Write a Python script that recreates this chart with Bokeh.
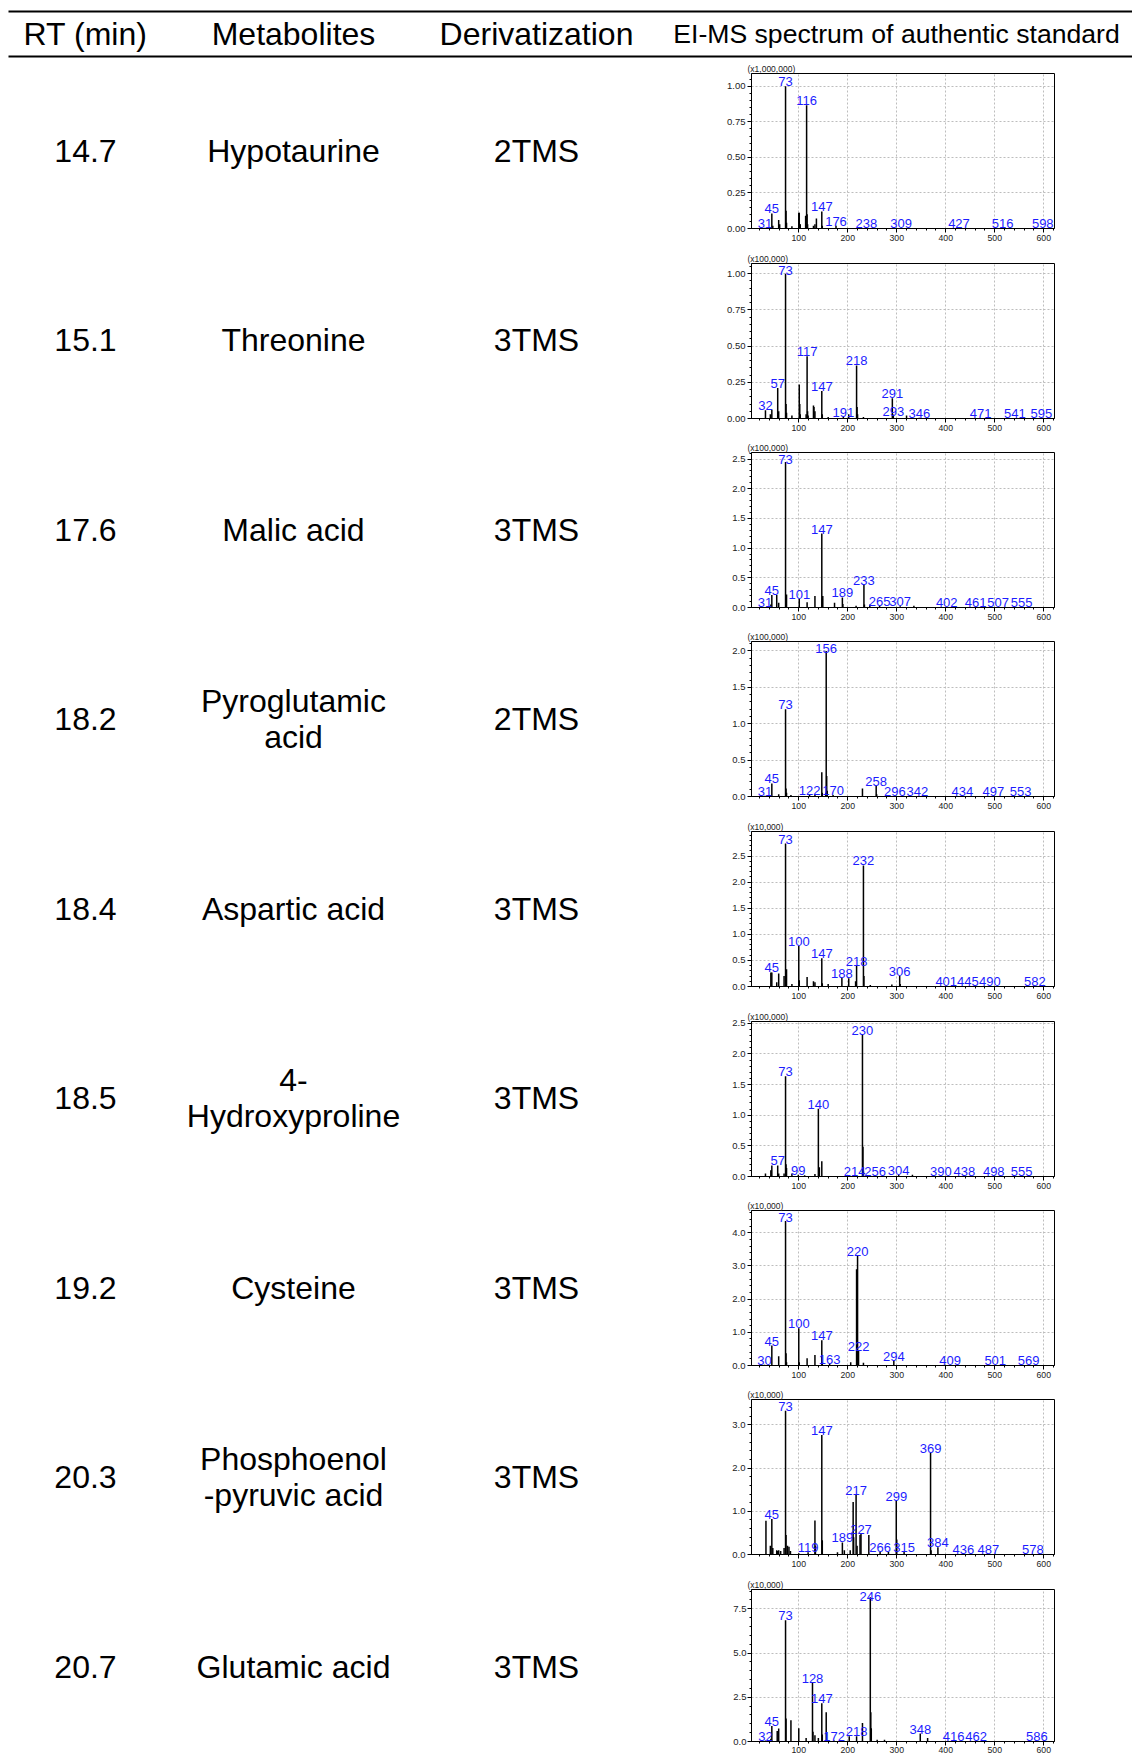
import numpy as np
from bokeh.plotting import figure
from bokeh.layouts import column, row
from bokeh.models import Range1d, FixedTicker, PrintfTickFormatter
from bokeh.core.properties import value
from bokeh.embed import file_html
from bokeh.resources import INLINE

FONT = "Liberation Sans"

# ---------------- table data ----------------
headers = ["RT (min)", "Metabolites", "Derivatization", "EI-MS spectrum of authentic standard"]
rt_values = ["14.7", "15.1", "17.6", "18.2", "18.4", "18.5", "19.2", "20.3", "20.7"]
metabolites = ["Hypotaurine", "Threonine", "Malic acid", "Pyroglutamic\nacid", "Aspartic acid",
               "4-\nHydroxyproline", "Cysteine", "Phosphoenol\n-pyruvic acid", "Glutamic acid"]
derivatization = ["2TMS", "3TMS", "3TMS", "2TMS", "3TMS", "3TMS", "3TMS", "3TMS", "3TMS"]
scale_labels = ["(x1,000,000)", "(x100,000)", "(x100,000)", "(x100,000)", "(x10,000)",
                "(x100,000)", "(x10,000)", "(x10,000)", "(x10,000)"]
x_ticks = [100, 200, 300, 400, 500, 600]

# ---------------- spectra data ----------------
# 1 Hypotaurine
s1_mz = [31, 45, 47, 59, 61, 73, 74, 75, 86, 100, 101, 102, 103, 114, 115, 116, 117, 118, 130, 133, 136, 147, 148, 176, 238, 309, 427, 516, 598]
s1_int = [.006, .106, .02, .06, .03, 1.0, .125, .04, .015, .11, .11, .03, .03, .09, .02, .866, .1, .03, .02, .03, .07, .12, .02, .02, .003, .003, .003, .003, .003]
s1_lab = [31, 45, 73, 116, 147, 176, 238, 309, 427, 516, 598]
s1_yticks = [0.0, 0.25, 0.5, 0.75, 1.0]
s1_ymax = 1.09
# 2 Threonine
s2_mz = [32, 42, 45, 57, 59, 73, 74, 75, 86, 101, 102, 103, 115, 117, 118, 119, 130, 131, 133, 147, 148, 160, 191, 202, 218, 219, 220, 232, 291, 292, 293, 320, 346, 471, 541, 595]
s2_int = [.057, .03, .06, .21, .05, 1.0, .1, .04, .02, .234, .1, .03, .03, .43, .05, .02, .09, .08, .05, .19, .03, .01, .01, .03, .366, .08, .03, .01, .14, .03, .02, .02, .005, .003, .003, .003]
s2_lab = [32, 57, 73, 117, 147, 191, 218, 291, 293, 346, 471, 541, 595]
s2_yticks = [0.0, 0.25, 0.5, 0.75, 1.0]
s2_ymax = 1.07
# 3 Malic acid
s3_mz = [31, 43, 45, 55, 59, 73, 74, 75, 101, 117, 133, 147, 148, 149, 173, 189, 190, 217, 233, 234, 245, 265, 307, 335, 402, 461, 507, 555]
s3_int = [.01, .05, .21, .21, .08, 2.45, .2, .22, .145, .09, .195, 1.245, .15, .195, .08, .17, .06, .03, .38, .05, .05, .03, .02, .03, .005, .005, .005, .005]
s3_lab = [31, 45, 73, 101, 147, 189, 233, 265, 307, 402, 461, 507, 555]
s3_yticks = [0.0, 0.5, 1.0, 1.5, 2.0, 2.5]
s3_ymax = 2.61
# 4 Pyroglutamic acid
s4_mz = [31, 45, 59, 73, 74, 75, 84, 122, 133, 147, 148, 155, 156, 157, 158, 170, 230, 258, 259, 296, 342, 434, 497, 553]
s4_int = [.01, .18, .03, 1.2, .11, .05, .02, .02, .03, .334, .05, .05, 2.0, .28, .08, .02, .11, .146, .03, .005, .005, .005, .005, .005]
s4_lab = [31, 45, 73, 122, 156, 170, 258, 296, 342, 434, 497, 553]
s4_yticks = [0.0, 0.5, 1.0, 1.5, 2.0]
s4_ymax = 2.13
# 5 Aspartic acid
s5_mz = [43, 45, 55, 59, 70, 73, 74, 75, 86, 100, 101, 117, 130, 133, 147, 148, 160, 188, 202, 216, 218, 232, 233, 246, 290, 306, 307, 401, 445, 490, 582]
s5_int = [.27, .27, .08, .25, .2, 2.74, .27, .33, .05, .776, .12, .18, .1, .08, .54, .06, .05, .17, .16, .1, .40, 2.32, .2, .03, .04, .2, .05, .005, .005, .005, .005]
s5_lab = [45, 73, 100, 147, 188, 218, 232, 306, 401, 445, 490, 582]
s5_yticks = [0.0, 0.5, 1.0, 1.5, 2.0, 2.5]
s5_ymax = 2.97
# 6 4-Hydroxyproline
s6_mz = [32, 43, 45, 57, 59, 70, 73, 74, 75, 86, 99, 112, 133, 140, 142, 147, 214, 230, 231, 232, 256, 304, 332, 390, 438, 498, 555]
s6_int = [.05, .1, .18, .18, .05, .05, 1.636, .2, .14, .05, .03, .02, .04, 1.107, .15, .25, .01, 2.31, .486, .08, .01, .03, .03, .005, .005, .005, .005]
s6_lab = [57, 73, 99, 140, 214, 230, 256, 304, 390, 438, 498, 555]
s6_yticks = [0.0, 0.5, 1.0, 1.5, 2.0, 2.5]
s6_ymax = 2.53
# 7 Cysteine
s7_mz = [30, 45, 59, 73, 74, 75, 100, 101, 117, 133, 147, 148, 163, 206, 218, 220, 222, 232, 294, 409, 501, 569]
s7_int = [.02, .6, .28, 4.35, .37, .1, 1.12, .1, .22, .32, .76, .1, .05, .1, 2.9, 3.31, .45, .08, .15, .01, .01, .01]
s7_lab = [30, 45, 73, 100, 147, 163, 220, 222, 294, 409, 501, 569]
s7_yticks = [0.0, 1.0, 2.0, 3.0, 4.0]
s7_ymax = 4.67
# 8 Phosphoenolpyruvic acid
s8_mz = [33, 42, 45, 47, 55, 57, 59, 63, 70, 73, 74, 77, 80, 83, 100, 119, 133, 134, 147, 148, 179, 189, 193, 205, 211, 212, 217, 219, 225, 227, 243, 266, 283, 299, 300, 315, 369, 370, 384, 436, 487, 578]
s8_int = [.78, .2, .82, .15, .1, .08, .1, .08, .15, 3.33, .45, .2, .18, .08, .03, .05, .79, .2, 2.77, .33, .05, .28, .1, .1, 1.215, .4, 1.385, .2, .45, .48, .45, .06, .06, 1.25, .35, .06, 2.35, .1, .17, .01, .01, .01]
s8_lab = [45, 73, 119, 147, 189, 217, 227, 266, 299, 315, 369, 384, 436, 487, 578]
s8_yticks = [0.0, 1.0, 2.0, 3.0]
s8_ymax = 3.59
# 9 Glutamic acid
s9_mz = [32, 43, 45, 56, 59, 73, 74, 84, 100, 115, 128, 129, 133, 140, 147, 148, 156, 172, 203, 218, 230, 246, 247, 248, 260, 275, 348, 363, 416, 462, 586]
s9_int = [.05, .15, .87, .6, .73, 6.85, 1.3, 1.2, .75, .2, 3.32, .55, .35, .2, 2.16, .4, 1.65, .05, .3, .3, 1.05, 8.15, 1.65, .75, .1, .1, .45, .2, .02, .02, .02]
s9_lab = [32, 45, 73, 128, 147, 172, 218, 246, 348, 416, 462, 586]
s9_yticks = [0.0, 2.5, 5.0, 7.5]
s9_ymax = 8.59

spectra = [
    (s1_mz, s1_int, s1_lab, s1_yticks, s1_ymax, "%.2f"),
    (s2_mz, s2_int, s2_lab, s2_yticks, s2_ymax, "%.2f"),
    (s3_mz, s3_int, s3_lab, s3_yticks, s3_ymax, "%.1f"),
    (s4_mz, s4_int, s4_lab, s4_yticks, s4_ymax, "%.1f"),
    (s5_mz, s5_int, s5_lab, s5_yticks, s5_ymax, "%.1f"),
    (s6_mz, s6_int, s6_lab, s6_yticks, s6_ymax, "%.1f"),
    (s7_mz, s7_int, s7_lab, s7_yticks, s7_ymax, "%.1f"),
    (s8_mz, s8_int, s8_lab, s8_yticks, s8_ymax, "%.1f"),
    (s9_mz, s9_int, s9_lab, s9_yticks, s9_ymax, "%.1f"),
]

# ---------------- layout constants ----------------
TOTAL_W, TOTAL_H = 1132, 1755
HEADER_H = 61
TEXT_W = 708
SPEC_W = TOTAL_W - TEXT_W
ROW_PITCH = 189.5
FRAME_H = 155
FRAME_TOP = 12
BORDER_L, BORDER_R = 43, 78
BODY_H = TOTAL_H - HEADER_H
LABEL_BLUE = "#1c1cff"
MAIN_FS = "32px"

# ---------------- header ----------------
hdr = figure(width=TOTAL_W, height=HEADER_H, x_range=Range1d(0, TOTAL_W), y_range=Range1d(HEADER_H, 0),
             output_backend="svg", toolbar_location=None, min_border=0)
hdr.axis.visible = False
hdr.grid.visible = False
hdr.outline_line_color = None
hdr.segment(x0=[8, 8], y0=[11, 56], x1=[TOTAL_W, TOTAL_W], y1=[11, 56], line_color="black", line_width=2)
hdr_x = [85, 293, 536, 896]
hdr_sizes = [MAIN_FS, MAIN_FS, MAIN_FS, "26.6px"]
for t, x, fs in zip(headers, hdr_x, hdr_sizes):
    hdr.text(x=[x], y=[33.5], text=[t], text_font=value(FONT), text_font_size=fs,
             text_align="center", text_baseline="middle", text_color="black")

# ---------------- text column ----------------
row_top = 150 - HEADER_H  # local y of first row centre
txt = figure(width=TEXT_W, height=BODY_H, x_range=Range1d(0, TEXT_W),
             y_range=Range1d((BODY_H - row_top) / ROW_PITCH, -row_top / ROW_PITCH),
             output_backend="svg", toolbar_location=None, min_border=0)
txt.axis.visible = False
txt.grid.visible = False
txt.outline_line_color = None
rows_idx = list(range(len(rt_values)))
for col_x, col_vals in zip([85, 293, 536], [rt_values, metabolites, derivatization]):
    txt.text(x=[col_x] * len(col_vals), y=rows_idx, text=col_vals, text_font=value(FONT),
             text_font_size=MAIN_FS, text_align="center", text_baseline="middle",
             text_color="black", text_line_height=1.0)

# ---------------- spectra ----------------
bounds = [round(ROW_PITCH * i) for i in range(len(spectra))] + [BODY_H]
specs = []
for i, (mz, inten, labs, yt, ymax, fmt) in enumerate(spectra):
    h = bounds[i + 1] - bounds[i]
    last = i == len(spectra) - 1
    p = figure(width=SPEC_W, height=h, x_range=Range1d(3.5, 622), y_range=Range1d(0, ymax),
               output_backend="svg", toolbar_location=None,
               min_border_left=BORDER_L, min_border_right=BORDER_R,
               min_border_top=FRAME_TOP, min_border_bottom=h - FRAME_TOP - FRAME_H)
    p.title.text = scale_labels[i]
    p.title.text_font = FONT
    p.title.text_font_size = "8.5px"
    p.title.text_font_style = "normal"
    p.title.text_color = "#222222"
    p.title.align = "left"
    p.title.offset = -4
    p.title.standoff = 0
    p.outline_line_color = "black"
    p.outline_line_width = 1
    step = yt[1] - yt[0]
    p.yaxis.ticker = FixedTicker(ticks=yt, minor_ticks=list(np.arange(0, ymax, step / 5)))
    p.xaxis.ticker = FixedTicker(ticks=x_ticks, minor_ticks=list(range(20, 621, 20)))
    p.yaxis.formatter = PrintfTickFormatter(format=fmt)
    p.xaxis.formatter = PrintfTickFormatter(format="%d")
    for ax, fs in ((p.xaxis, "8.7px"), (p.yaxis, "9.5px")):
        ax.axis_line_color = "black"
        ax.major_tick_out = 4
        ax.major_tick_in = 0
        ax.minor_tick_out = 2
        ax.minor_tick_in = 0
        ax.major_label_standoff = 1 if last else 2
        ax.major_label_text_font_size = fs
        ax.major_label_text_font = FONT
        ax.major_label_text_color = "#222222"
    p.grid.grid_line_color = "#bdbdbd"
    p.grid.grid_line_dash = "2 2"
    p.grid.grid_line_width = 1
    p.segment(x0=mz, y0=[0] * len(mz), x1=mz, y1=inten, line_color="black", line_width=1.5)
    lut = dict(zip(mz, inten))
    ppu = FRAME_H / ymax
    ly = [min(lut[m], ymax - 11.5 / ppu) for m in labs]
    p.text(x=labs, y=ly, text=[str(m) for m in labs], text_font=value(FONT), text_font_size="13px",
           text_color=LABEL_BLUE, text_align="center", text_baseline="bottom")
    specs.append(p)

layout = column(hdr, row(txt, column(*specs, spacing=0), spacing=0), spacing=0)
open("out.html", "w").write(file_html(layout, INLINE))
